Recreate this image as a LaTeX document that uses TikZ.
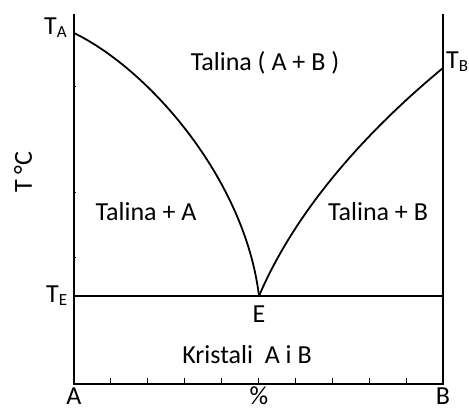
\documentclass[tikz,border=0pt]{standalone}
\usepackage{fontspec}
\setmainfont{Carlito}
\usetikzlibrary{positioning}

\begin{document}
\begin{tikzpicture}[
    x=1pt,y=-1pt,
    every node/.style={font=\fontsize{26}{30}\selectfont, inner sep=0pt},
    axis/.style={line width=2pt, line cap=rect},
    curve/.style={line width=1.8pt},
    tickmark/.style={line width=1pt},
    tlbl/.style={anchor=base west},
    xlbl/.style={anchor=base}
]
\newcommand{\subtxt}[1]{{\fontsize{17}{17}\selectfont\raisebox{-3pt}{#1}}}

\useasboundingbox (0,0) rectangle (469,412);

% Frame corners
\coordinate (A0) at (74,384);
\coordinate (B0) at (443,384);
\coordinate (Atop) at (74,15);
\coordinate (Btop) at (443,15);

% Melting points and eutectic
\coordinate (TA) at (74,33);
\coordinate (TB) at (443,68);
\coordinate (TE) at (74,296);
\coordinate (E) at (259,296);
\coordinate (TEr) at (443,296);

% Axes
\draw[axis] (Atop) -- (A0) -- (B0) -- (Btop);

% Liquidus curves
\draw[curve] (TA) .. controls (150,70) and (245,180) .. (E);
\draw[curve] (E) .. controls (300,200) and (380,120) .. (TB);

% Eutectic line
\draw[curve] (TE) -- (TEr);

% Ticks
\foreach \k in {1,...,9}
  \draw[tickmark] (74+\k*36.9,384) -- ++(0,-6);
\foreach \yy in {87,192,257}
  \draw[tickmark] (74,\yy) -- ++(2,0);

% Temperature labels
\node[tlbl] (lblTA) at (44,35) {T\subtxt{A}};
\node[tlbl] (lblTB) at (446,69) {T\subtxt{B}};
\node[tlbl] (lblTE) at (46,302) {T\subtxt{E}};
\node[rotate=90] (lblT) at (23,172) {T \textdegree C};

% Phase regions
\node (liq) at (265,63) {Talina ( A + B )};
\node (liqA) at (146,212) {Talina + A};
\node (liqB) at (378,212) {Talina + B};
\node (sol) at (247,355) {Kristali\ \ A i B};
\node[below=10pt of E] (lblE) {E};

% Composition axis
\node[xlbl] (lblA) at (74,404) {A};
\node[xlbl] (lblP) at (259,404) {\%};
\node[xlbl] (lblB) at (443,404) {B};

\end{tikzpicture}
\end{document}
